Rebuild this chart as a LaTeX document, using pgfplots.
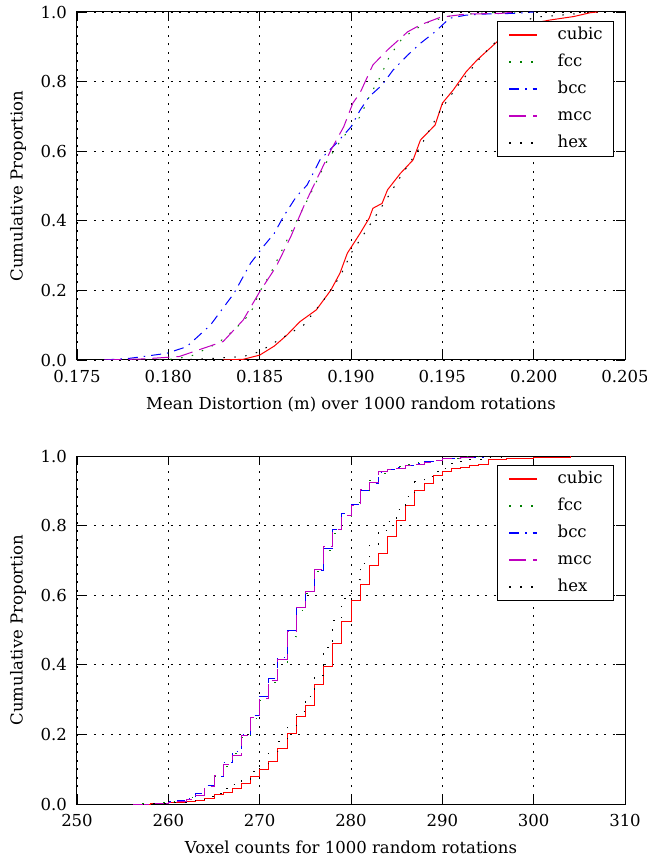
\documentclass[border=0pt]{standalone}
\usepackage{fontspec}
\setmainfont{DejaVu Serif}
\usepackage{pgfplots}
\pgfplotsset{compat=1.18}
\definecolor{fccgreen}{rgb}{0,0.5,0}
\definecolor{mccmag}{rgb}{0.75,0,0.75}
\pgfplotsset{
  cdfaxis/.style={
    scale only axis, width=548pt, height=348pt,
    /pgf/number format/assume math mode=true,
    ymin=0, ymax=1,
    ytick={0,0.2,0.4,0.6,0.8,1},
    yticklabels={0.0,0.2,0.4,0.6,0.8,1.0},
    ylabel={Cumulative Proportion},
    every axis y label/.style={at={(axis description cs:0,0.5)}, xshift=-59pt,
      rotate=90, anchor=center, inner sep=0pt},
    every axis x label/.style={at={(axis description cs:0.5,0)}, yshift=-49pt,
      anchor=base, inner sep=0pt},
    yticklabel style={inner sep=0pt, anchor=east, xshift=-10pt},
    xticklabel style={inner sep=0pt, anchor=north, yshift=-10pt},
    grid=major,
    major grid style={black, line width=0.8pt, dash pattern=on 2pt off 6.5pt},
    tick align=inside, major tick length=9pt,
    axis line style={line width=1pt},
    every tick/.style={black, line width=0.9pt},
    legend cell align=left,
    legend style={at={(rel axis cs:0.98,0.974)}, anchor=north east, draw=black,
      line width=0.8pt, fill=white, row sep=10pt, inner xsep=11pt, inner ysep=5pt,
      nodes={inner xsep=0pt, inner ysep=0pt, text height=13pt, text depth=4pt},
      /tikz/every odd column/.append style={column sep=20pt}},
    legend image code/.code={\draw[#1, line width=1.3pt] (0pt,0pt) -- (28pt,0pt);},
    every axis plot/.append style={line width=1pt},
  },
  cubic/.style={red, solid},
  fcc/.style={fccgreen, dash pattern=on 1.5pt off 9.5pt},
  bcc/.style={blue, dash pattern=on 10pt off 6pt on 1.5pt off 6pt},
  mcc/.style={mccmag, dash pattern=on 17pt off 7pt},
  hex/.style={black, dash pattern=on 1.5pt off 9.5pt},
}
\begin{document}
\fontsize{16.5}{20}\selectfont
\begin{tikzpicture}
% ---------------- top ----------------
\begin{axis}[cdfaxis,
  xmin=0.175, xmax=0.205,
  xtick={0.175,0.18,0.185,0.19,0.195,0.2,0.205},
  xticklabels={0.175,0.180,0.185,0.190,0.195,0.200,0.205},
  xlabel={Mean Distortion (m) over 1000 random rotations},
]
\addplot[cubic] coordinates {
(0.1830,0.000) (0.1841,0.002) (0.1850,0.014) (0.1858,0.040) (0.1865,0.072)
(0.1872,0.110) (0.1881,0.144) (0.1889,0.201) (0.1894,0.250) (0.1898,0.307)
(0.1905,0.364) (0.1910,0.408) (0.1912,0.436) (0.1917,0.450) (0.1920,0.489)
(0.1927,0.536) (0.1934,0.575) (0.1938,0.632) (0.1946,0.675) (0.1950,0.738)
(0.1956,0.776) (0.1963,0.828) (0.1969,0.862) (0.1974,0.886) (0.1982,0.924)
(0.1990,0.950) (0.2000,0.968) (0.2009,0.977) (0.2022,0.987) (0.2031,0.998)
(0.2035,1.000)};
\addlegendentry{cubic}
\addplot[fcc] coordinates {
(0.1795,0.000) (0.1801,0.002) (0.1812,0.010) (0.1827,0.048) (0.1836,0.086)
(0.1845,0.134) (0.1850,0.196) (0.1856,0.249) (0.1865,0.345) (0.1870,0.397)
(0.1878,0.479) (0.1885,0.555) (0.1892,0.613) (0.1900,0.670) (0.1905,0.699)
(0.1910,0.757) (0.1916,0.814) (0.1921,0.872) (0.1928,0.924) (0.1936,0.953)
(0.1943,0.972) (0.1956,0.991) (0.1975,0.998) (0.1990,1.000)};
\addlegendentry{fcc}
\addplot[bcc] coordinates {
(0.1765,0.000) (0.1779,0.005) (0.1799,0.019) (0.1810,0.038) (0.1823,0.100)
(0.1836,0.192) (0.1845,0.278) (0.1852,0.326) (0.1858,0.364) (0.1863,0.412)
(0.1870,0.469) (0.1876,0.503) (0.1883,0.575) (0.1892,0.623) (0.1900,0.670)
(0.1905,0.718) (0.1910,0.757) (0.1917,0.790) (0.1923,0.833) (0.1931,0.876)
(0.1938,0.910) (0.1946,0.943) (0.1954,0.982) (0.1963,0.991) (0.1972,0.994)
(0.1989,0.996) (0.2000,1.000)};
\addlegendentry{bcc}
\addplot[mcc] coordinates {
(0.1765,0.000) (0.1786,0.003) (0.1806,0.010) (0.1830,0.053) (0.1841,0.115)
(0.1850,0.196) (0.1859,0.268) (0.1867,0.354) (0.1874,0.440) (0.1881,0.517)
(0.1889,0.603) (0.1894,0.651) (0.1896,0.670) (0.1901,0.738) (0.1905,0.768)
(0.1909,0.814) (0.1912,0.848) (0.1920,0.891) (0.1931,0.943) (0.1938,0.963)
(0.1949,0.985) (0.1963,0.994) (0.1982,0.996) (0.1990,1.000)};
\addlegendentry{mcc}
\addplot[hex] coordinates {
(0.1800,0.000) (0.1819,0.003) (0.1841,0.010) (0.1850,0.024) (0.1859,0.053)
(0.1874,0.100) (0.1885,0.172) (0.1894,0.240) (0.1901,0.316) (0.1905,0.345)
(0.1912,0.402) (0.1918,0.450) (0.1927,0.526) (0.1938,0.613) (0.1949,0.718)
(0.1958,0.785) (0.1972,0.876) (0.1982,0.929) (0.1991,0.960) (0.2000,0.985)
(0.2020,0.993) (0.2030,1.000)};
\addlegendentry{hex}
\end{axis}
% ---------------- bottom ----------------
\begin{axis}[cdfaxis, at={(0,-444pt)},
  xmin=250, xmax=310,
  xtick={250,260,270,280,290,300,310},
  xlabel={Voxel counts for 1000 random rotations},
]
\addplot[cubic, const plot mark left] coordinates {
(256,0) (258,0.001) (260,0.003) (261,0.004) (262,0.007) (263,0.011) (264,0.016)
(265,0.026) (266,0.033) (267,0.045) (268,0.059) (269,0.079) (270,0.098)
(271,0.122) (272,0.160) (273,0.203) (274,0.251) (275,0.284) (276,0.344)
(277,0.395) (278,0.460) (279,0.524) (280,0.586) (281,0.632) (282,0.684)
(283,0.720) (284,0.768) (285,0.814) (286,0.859) (287,0.900) (288,0.921)
(289,0.943) (290,0.955) (291,0.963) (292,0.968) (293,0.972) (294,0.976)
(295,0.990) (297,0.992) (300,0.995) (302,0.997) (304,1.000)};
\addlegendentry{cubic}
\addplot[fcc, const plot mark left] coordinates {
(256,0) (257,0.002) (259,0.004) (260,0.006) (261,0.010) (262,0.018) (263,0.030)
(264,0.048) (265,0.078) (266,0.108) (267,0.145) (268,0.190) (269,0.245)
(270,0.298) (271,0.350) (272,0.408) (273,0.480) (274,0.555) (275,0.605)
(276,0.668) (277,0.728) (278,0.778) (279,0.825) (280,0.865) (281,0.898)
(282,0.930) (283,0.950) (284,0.962) (285,0.970) (286,0.976) (287,0.980)
(288,0.984) (289,0.988) (290,0.993) (292,0.998) (294,1.000)};
\addlegendentry{fcc}
\addplot[bcc, const plot mark left] coordinates {
(256,0) (258,0.002) (260,0.006) (261,0.011) (262,0.017) (263,0.030) (264,0.052)
(265,0.080) (266,0.120) (267,0.150) (268,0.200) (269,0.255) (270,0.310)
(271,0.360) (272,0.420) (273,0.500) (274,0.565) (275,0.612) (276,0.672)
(277,0.735) (278,0.790) (279,0.835) (280,0.862) (281,0.900) (282,0.920)
(283,0.952) (284,0.962) (285,0.968) (286,0.974) (287,0.978) (288,0.983)
(289,0.988) (290,0.992) (292,0.997) (295,1.000)};
\addlegendentry{bcc}
\addplot[mcc, const plot mark left] coordinates {
(256,0) (258,0.002) (260,0.005) (261,0.008) (262,0.014) (263,0.025) (264,0.049)
(265,0.083) (266,0.113) (267,0.140) (268,0.198) (269,0.250) (270,0.303)
(271,0.356) (272,0.414) (273,0.495) (274,0.565) (275,0.610) (276,0.674)
(277,0.739) (278,0.788) (279,0.830) (280,0.859) (281,0.905) (282,0.925)
(283,0.955) (284,0.960) (285,0.965) (286,0.972) (287,0.977) (288,0.982)
(289,0.987) (290,0.992) (292,0.997) (294,1.000)};
\addlegendentry{mcc}
\addplot[hex, const plot mark left] coordinates {
(256,0) (258,0.001) (260,0.004) (262,0.009) (264,0.022) (265,0.030) (266,0.045)
(267,0.055) (268,0.070) (269,0.094) (270,0.115) (271,0.150) (272,0.180)
(273,0.225) (274,0.265) (275,0.310) (276,0.370) (277,0.450) (278,0.527)
(279,0.590) (280,0.644) (281,0.692) (282,0.744) (283,0.787) (284,0.811)
(285,0.845) (286,0.883) (287,0.926) (288,0.940) (289,0.955) (290,0.965)
(291,0.979) (292,0.985) (293,0.990) (295,0.995) (297,1.000)};
\addlegendentry{hex}
\end{axis}
\pgfresetboundingbox
\path (-77pt,-501pt) rectangle (570pt,360pt);
\end{tikzpicture}
\end{document}
